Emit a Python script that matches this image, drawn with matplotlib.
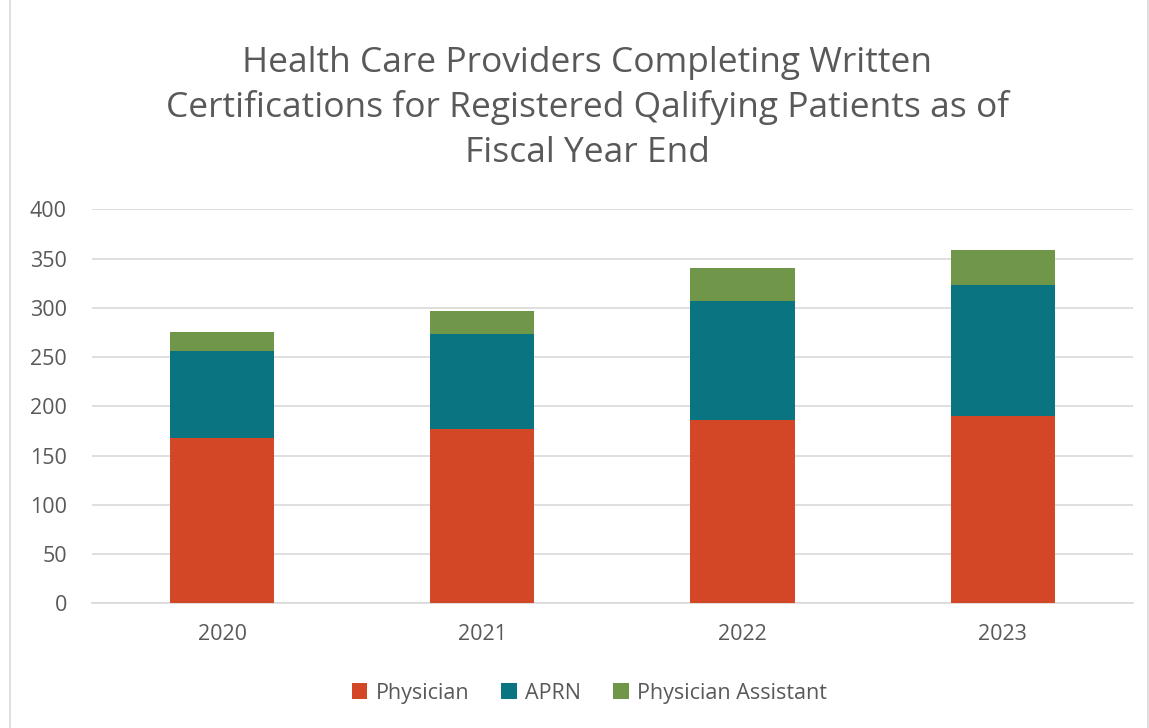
import matplotlib.pyplot as plt
import numpy as np

years = ['2020', '2021', '2022', '2023']
physician = [168, 177, 186, 190]
aprn = [88, 96, 121, 133]
physician_assistant = [19, 24, 33, 36]

series_names = ['Physician', 'APRN', 'Physician Assistant']
colors = ['#D34726', '#0A7480', '#70964A']

plt.rcParams['font.family'] = ['Open Sans', 'DejaVu Sans']

fig = plt.figure(figsize=(11.49, 7.28), dpi=100)
ax = fig.add_axes([0.080, 0.1713, 0.906, 0.5412])

x = np.arange(len(years))
bottom = np.zeros(len(years))
for vals, name, c in zip([physician, aprn, physician_assistant], series_names, colors):
    ax.bar(x, vals, 0.4, bottom=bottom, color=c, label=name, zorder=3)
    bottom += np.array(vals)

ax.set_xlim(-0.5, 3.5)
ax.set_ylim(0, 400)
ax.set_yticks(range(0, 401, 50))
ax.set_xticks(x, years)
ax.grid(axis='y', color='#D9D9D9', linewidth=1.2, zorder=0)
for s in ['top', 'right', 'left']:
    ax.spines[s].set_visible(False)
ax.spines['bottom'].set_color('#D9D9D9')
ax.spines['bottom'].set_linewidth(1.2)
ax.tick_params(axis='both', length=0, labelsize=15.5, colors='#595959')
ax.tick_params(axis='y', pad=18)
ax.tick_params(axis='x', pad=15)

fig.text(0.511, 0.852, 'Health Care Providers Completing Written\n'
         'Certifications for Registered Qalifying Patients as of\n'
         'Fiscal Year End', ha='center', va='center', fontsize=25.5,
         color='#595959', linespacing=1.4)

fig.legend(loc='center', bbox_to_anchor=(0.513, 0.048), ncol=3, frameon=False,
           fontsize=15.5, labelcolor='#595959', handlelength=0.7, handleheight=0.7,
           columnspacing=1.5, handletextpad=0.4)

fig.add_artist(plt.Rectangle((0.009, -0.01), 0.99, 1.02, transform=fig.transFigure,
                             fill=False, edgecolor='#D9D9D9', linewidth=1.2))

fig.savefig('out.png', dpi=100)
